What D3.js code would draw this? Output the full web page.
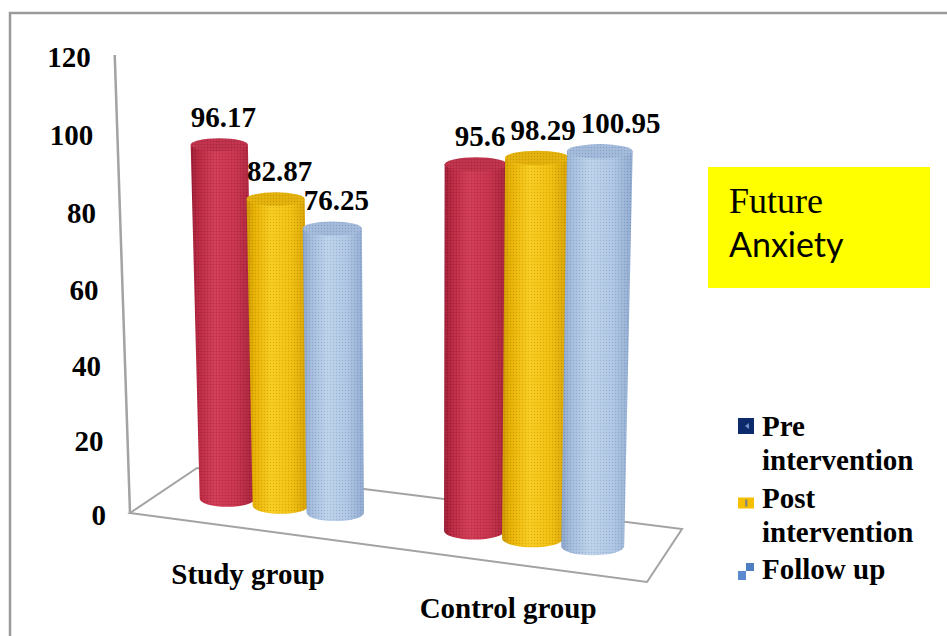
<!DOCTYPE html>
<html>
<head>
<meta charset="utf-8">
<script src="https://cdn.jsdelivr.net/npm/d3@7/dist/d3.min.js"></script>
<style>
  html, body { margin: 0; padding: 0; background: #ffffff; }
  svg { display: block; }
</style>
</head>
<body>
<svg id="chart" width="947" height="636"></svg>
<script>
// ---- data ----
const categories = ["Study group", "Control group"];
const seriesNames = ["Pre intervention", "Post intervention", "Follow up"];
const preValues = [96.17, 95.6];
const postValues = [82.87, 98.29];
const followValues = [76.25, 100.95];
const yTicks = [0, 20, 40, 60, 80, 100, 120];
const titleLines = ["Future", "Anxiety"];

const seriesValues = [preValues, postValues, followValues];

// ---- 3-D plot frame ----
const svg = d3.select("#chart");
const defs = svg.append("defs");

// floor of the plot area in screen space (front-left, front-right, back-right, back-left)
const floorCorners = { fl: [130, 513], fr: [647, 582], br: [682, 529], bl: [197, 468] };
// pixels per value unit at floor level in each corner
const floorUnit = { fl: 3.7, fr: 4.001, br: 3.707, bl: 3.406 };
const widthWarp = 1.096;      // foreshortening along the category axis
const heightWarp = 0.000255;  // foreshortening along the value axis
const vanishX = 430, vanishDist = 9000; // vertical edges converge far below
const barDepth = 0.5;

const lerp = (a, b, t) => a + (b - a) * t;
const warp = u => u / (u + (1 - u) * widthWarp);

function floorPoint(u, v) {
  const w = warp(u), c = floorCorners;
  const fx = lerp(c.fl[0], c.fr[0], w), fy = lerp(c.fl[1], c.fr[1], w);
  const bx = lerp(c.bl[0], c.br[0], w), by = lerp(c.bl[1], c.br[1], w);
  return [lerp(fx, bx, v), lerp(fy, by, v)];
}
function unitAt(u, v) {
  const w = warp(u), s = floorUnit;
  return lerp(lerp(s.fl, s.fr, w), lerp(s.bl, s.br, w), v);
}

const y = d3.scaleLinear().domain(d3.extent(yTicks)).range([0, 120]);
function project(u, v, value) {
  const [bx, by] = floorPoint(u, v);
  const h = y(value);
  const d = unitAt(u, v) * h / (1 - heightWarp * h);
  return { x: bx + (bx - vanishX) * d / vanishDist, y: by - d, d, grow: 1 + d / vanishDist };
}

const x0 = d3.scaleBand().domain(categories).range([0, 1])
  .paddingInner(0.327).paddingOuter(0.156).align(0.517);
const x1 = d3.scaleBand().domain(seriesNames).range([0, x0.bandwidth()]);

// ---- fills ----
const palette = [
  { stops: [[0, "#9c1a33"], [0.12, "#b8263f"], [0.38, "#d03a54"], [0.7, "#c8314b"], [1, "#a31f38"]], top: "#bd2f48" },
  { stops: [[0, "#cc9500"], [0.12, "#e6b000"], [0.4, "#f8cb1e"], [0.72, "#f1bf0e"], [1, "#d49e00"]], top: "#e3b008" },
  { stops: [[0, "#8aa3c8"], [0.14, "#a3bcdd"], [0.4, "#bcd2eb"], [0.72, "#afc7e5"], [1, "#8ea9cf"]], top: "#a0b8da" }
];
palette.forEach((p, i) => {
  const g = defs.append("linearGradient").attr("id", "body" + i)
    .attr("x1", 0).attr("x2", 1).attr("y1", 0).attr("y2", 0);
  p.stops.forEach(([o, c]) => g.append("stop").attr("offset", o).attr("stop-color", c));
});
const mesh = defs.append("pattern").attr("id", "mesh")
  .attr("width", 3).attr("height", 3).attr("patternUnits", "userSpaceOnUse");
mesh.append("rect").attr("width", 1).attr("height", 1).attr("fill", "#000").attr("opacity", 0.12);
mesh.append("rect").attr("x", 1.5).attr("y", 1.5).attr("width", 1).attr("height", 1)
  .attr("fill", "#fff").attr("opacity", 0.15);

const serif = "'Liberation Serif', 'Times New Roman', serif";

// ---- outer frame ----
svg.append("rect").attr("x", 10).attr("y", 13).attr("width", 960).attr("height", 650)
  .attr("fill", "none").attr("stroke", "#9a9a9a").attr("stroke-width", 2.5);

// ---- floor and value axis ----
const c = floorCorners;
svg.append("path")
  .attr("d", `M${c.fl}L${c.fr}L${c.br}L${c.bl}Z`)
  .attr("fill", "none").attr("stroke", "#a3a3a3").attr("stroke-width", 2);

const axisBottom = project(0, 0, 0), axisTop = project(0, 0, d3.max(yTicks));
svg.append("line")
  .attr("x1", axisBottom.x).attr("y1", axisBottom.y)
  .attr("x2", axisTop.x).attr("y2", axisTop.y)
  .attr("stroke", "#a3a3a3").attr("stroke-width", 2.5);

svg.append("g").selectAll("text").data(yTicks).join("text")
  .each(function (t) {
    const p = project(0, 0, t);
    d3.select(this).attr("x", p.x - 24).attr("y", p.y + 2);
  })
  .attr("dy", "0.35em").attr("text-anchor", "end")
  .attr("font-family", serif).attr("font-weight", "bold").attr("font-size", 29)
  .attr("fill", "#000").text(d => d);

// ---- cylinders ----
const bars = [];
categories.forEach((cat, ci) => {
  seriesNames.forEach((s, si) => {
    const uc = x0(cat) + x1(s) + x1.bandwidth() / 2;
    const r = x1.bandwidth() * 0.52;
    const value = seriesValues[si][ci];
    const [lx] = floorPoint(uc - r, barDepth), [rx] = floorPoint(uc + r, barDepth);
    const base = project(uc, barDepth, 0);
    const top = project(uc, barDepth, value);
    const rx0 = (rx - lx) / 2, rxT = rx0 * top.grow;
    const ry0 = rx0 * 0.29, ryT = rxT * (0.29 - 0.00018 * top.d);
    bars.push({ cat, si, value, base, top, rx0, rxT, ry0, ryT });
  });
});

const barG = svg.append("g");
bars.forEach(b => {
  const { base, top, rx0, rxT, ry0, ryT } = b;
  const d = `M${base.x - rx0},${base.y}L${top.x - rxT},${top.y}L${top.x + rxT},${top.y}` +
    `L${base.x + rx0},${base.y}A${rx0},${ry0} 0 0 1 ${base.x - rx0},${base.y}Z`;
  barG.append("path").attr("d", d).attr("fill", `url(#body${b.si})`);
  barG.append("path").attr("d", d).attr("fill", "url(#mesh)");
  barG.append("ellipse").attr("cx", top.x).attr("cy", top.y).attr("rx", rxT).attr("ry", ryT)
    .attr("fill", palette[b.si].top);
  barG.append("ellipse").attr("cx", top.x).attr("cy", top.y).attr("rx", rxT).attr("ry", ryT)
    .attr("fill", "url(#mesh)");
});

// ---- value labels (nudged apart when they collide) ----
const labelG = svg.append("g")
  .attr("font-family", serif).attr("font-weight", "bold").attr("font-size", 29)
  .attr("text-anchor", "middle").attr("fill", "#000");
categories.forEach(cat => {
  let prev = null;
  bars.filter(b => b.cat === cat).forEach(b => {
    const t = labelG.append("text").text(String(b.value));
    const w = t.node().getComputedTextLength();
    let cx = b.top.x + 4;
    const by = b.top.y - b.ryT - 11;
    if (prev && Math.abs(by - prev.by) < 24 && cx - w / 2 < prev.right + 5) cx = prev.right + 5 + w / 2;
    t.attr("x", cx).attr("y", by);
    prev = { right: cx + w / 2, by };
  });
});

// ---- category labels along the front edge ----
svg.append("g").selectAll("text").data(categories).join("text")
  .each(function (cat) {
    const [fx, fy] = floorPoint(x0(cat) + x0.bandwidth() / 2, 0);
    d3.select(this).attr("x", fx - 3).attr("y", fy + 54.5);
  })
  .attr("text-anchor", "middle")
  .attr("font-family", serif).attr("font-weight", "bold").attr("font-size", 29)
  .attr("fill", "#000").text(d => d);

// ---- legend ----
const legendG = svg.append("g").attr("font-family", serif).attr("font-weight", "bold")
  .attr("font-size", 29).attr("fill", "#000");
const legendX = 762, legendMarkX = 738, legendWrap = 175;
const markers = [
  (g, by) => {
    g.append("rect").attr("x", legendMarkX).attr("y", by - 18).attr("width", 16).attr("height", 16).attr("fill", "#0c2a6c");
    g.append("path").attr("d", `M${legendMarkX + 11},${by - 13}L${legendMarkX + 7},${by - 10}L${legendMarkX + 11},${by - 7}Z`).attr("fill", "#6f8fc8");
  },
  (g, by) => {
    g.append("rect").attr("x", legendMarkX).attr("y", by - 10).attr("width", 16).attr("height", 11).attr("fill", "#f6bf00");
    g.append("rect").attr("x", legendMarkX + 7).attr("y", by - 8).attr("width", 2.5).attr("height", 7).attr("fill", "#8c8a74");
  },
  (g, by) => {
    g.append("rect").attr("x", legendMarkX + 8).attr("y", by - 16).attr("width", 8).attr("height", 8).attr("fill", "#4d7ec2");
    g.append("rect").attr("x", legendMarkX).attr("y", by - 8).attr("width", 8).attr("height", 9).attr("fill", "#5a8ad0");
  }
];
let ly = 436;
seriesNames.forEach((name, i) => {
  markers[i](legendG, ly);
  // wrap the entry into lines that fit the legend column
  const words = name.split(" ");
  let line = [];
  let t = legendG.append("text").attr("x", legendX).attr("y", ly);
  words.forEach(wd => {
    line.push(wd);
    t.text(line.join(" "));
    if (t.node().getComputedTextLength() > legendWrap && line.length > 1) {
      line.pop();
      t.text(line.join(" "));
      line = [wd];
      ly += 34;
      t = legendG.append("text").attr("x", legendX).attr("y", ly).text(wd);
    }
  });
  ly += 37.5;
});

// ---- title box ----
svg.append("rect").attr("x", 708).attr("y", 167).attr("width", 222).attr("height", 121).attr("fill", "#ffff00");
svg.append("text").attr("x", 729).attr("y", 213).attr("font-family", serif)
  .attr("font-size", 36).attr("fill", "#000").text(titleLines[0]);
svg.append("text").attr("x", 729).attr("y", 257).attr("font-family", "Lato, 'Open Sans', sans-serif")
  .attr("font-size", 34).attr("fill", "#000").text(titleLines[1]);
</script>
</body>
</html>
